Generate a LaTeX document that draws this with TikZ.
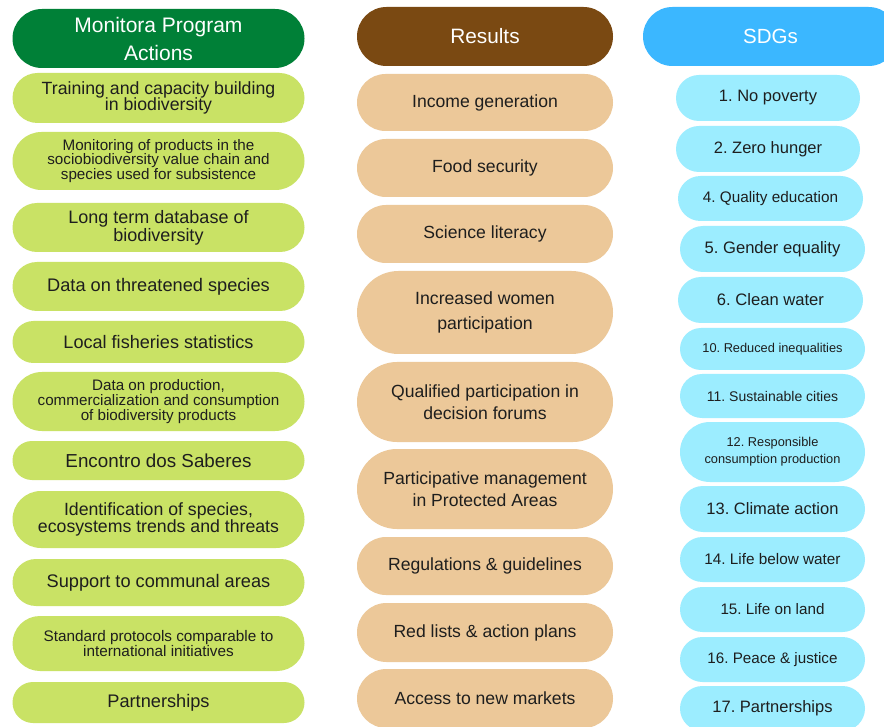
\documentclass[tikz,border=0pt]{standalone}
\usepackage{fontspec}
\setmainfont{Liberation Sans}
\usetikzlibrary{shapes.misc}
\definecolor{hgreen}{HTML}{008037}
\definecolor{lgreen}{HTML}{C9E265}
\definecolor{hbrown}{HTML}{7A4912}
\definecolor{lbrown}{HTML}{ECC899}
\definecolor{hblue}{HTML}{3BB7FF}
\definecolor{lblue}{HTML}{9CEDFF}
\definecolor{txt}{HTML}{1E1E1E}
\newcommand\fz[2]{\fontsize{#1}{#2}\selectfont}
\frenchspacing
\begin{document}
\begin{tikzpicture}[x=1pt,y=-1pt,
  pill/.style={rounded rectangle, inner sep=0pt, align=center, text=txt},
  lhead/.style={pill, fill=hgreen, text=white, minimum width=292pt},
  lbox/.style={pill, fill=lgreen, minimum width=292pt},
  mhead/.style={pill, fill=hbrown, text=white, minimum width=256pt},
  mbox/.style={pill, fill=lbrown, minimum width=256pt, font=\fz{17.6}{22.5}},
  rhead/.style={pill, fill=hblue, text=white, minimum width=255pt},
  rbox/.style={pill, fill=lblue, minimum width=185pt}]
\path[use as bounding box, clip] (0,0) rectangle (884,727);
\fill[white] (0,0) rectangle (884,727);
% left column
\node[lhead, minimum height=59pt, font=\fz{21}{28}] (lh) at (158.5,38.5) {Monitora Program\\Actions};
\node[lbox, minimum height=50pt, font=\fz{17.7}{16.8}] (l1) at (158.5,98) {Training and capacity building\\in biodiversity};
\node[lbox, minimum height=58pt, font=\fz{15.2}{14.6}] (l2) at (158.5,161) {Monitoring of products in the\\sociobiodiversity value chain and\\species used for subsistence};
\node[lbox, minimum height=49pt, font=\fz{18}{18.3}] (l3) at (158.5,227.5) {Long term database of\\biodiversity};
\node[lbox, minimum height=49pt, font=\fz{18.2}{18}] (l4) at (158.5,286.5) {Data on threatened species};
\node[lbox, minimum height=42pt, font=\fz{18.1}{18}] (l5) at (158.5,342) {Local fisheries statistics};
\node[lbox, minimum height=59pt, font=\fz{15.2}{14.7}] (l6) at (158.5,401.5) {Data on production,\\commercialization and consumption\\of biodiversity products};
\node[lbox, minimum height=39pt, font=\fz{18.8}{18}] (l7) at (158.5,460.5) {Encontro dos Saberes};
\node[lbox, minimum height=57pt, font=\fz{17.7}{17}] (l8) at (158.5,519.5) {Identification of species,\\ecosystems trends and threats};
\node[lbox, minimum height=47pt, font=\fz{18.2}{18}] (l9) at (158.5,582.5) {Support to communal areas};
\node[lbox, minimum height=55pt, font=\fz{15.3}{15}] (l10) at (158.5,643.5) {Standard protocols comparable to\\international initiatives};
\node[lbox, minimum height=41pt, font=\fz{18.2}{18}] (l11) at (158.5,702.5) {Partnerships};
% middle column
\node[mhead, minimum height=59pt, font=\fz{20.8}{25}] (mh) at (485,36.5) {Results};
\node[mbox, minimum height=57pt] (m1) at (485,102.5) {Income generation};
\node[mbox, minimum height=58pt] (m2) at (485,168) {Food security};
\node[mbox, minimum height=58pt] (m3) at (485,234) {Science literacy};
\node[mbox, minimum height=83pt, font=\fz{17.7}{25}] (m4) at (485,312.5) {Increased women\\participation};
\node[mbox, minimum height=80pt] (m5) at (485,402) {Qualified participation in\\decision forums};
\node[mbox, minimum height=80pt] (m6) at (485,489) {Participative management\\in Protected Areas};
\node[mbox, minimum height=58pt] (m7) at (485,566) {Regulations \& guidelines};
\node[mbox, minimum height=59pt] (m8) at (485,632.5) {Red lists \& action plans};
\node[mbox, minimum height=59pt] (m9) at (485,698.5) {Access to new markets};
% right column
\node[rhead, minimum height=59pt, font=\fz{20.5}{25}] (rh) at (770.5,36.5) {SDGs};
\node[rbox, minimum width=184pt, minimum height=46pt, font=\fz{16.5}{18}] (r1) at (768,98) {1. No poverty};
\node[rbox, minimum width=184pt, minimum height=46pt, font=\fz{16.5}{18}] (r2) at (768,149) {2. Zero hunger};
\node[rbox, minimum height=45pt, font=\fz{15.3}{18}] (r4) at (770.5,198.5) {4. Quality education};
\node[rbox, minimum height=46pt, font=\fz{16.6}{18}] (r5) at (772.5,249) {5. Gender equality};
\node[rbox, minimum height=46pt, font=\fz{16.6}{18}] (r6) at (770.5,300) {6. Clean water};
\node[rbox, minimum height=42pt, font=\fz{12.8}{16}] (r10) at (772.5,349) {10. Reduced inequalities};
\node[rbox, minimum height=44pt, font=\fz{14}{16}] (r11) at (772.5,396) {11. Sustainable cities};
\node[rbox, minimum height=60pt, font=\fz{12.8}{17}] (r12) at (772.5,452) {12. Responsible\\consumption production};
\node[rbox, minimum height=46pt, font=\fz{16.5}{18}] (r13) at (772.5,509) {13. Climate action};
\node[rbox, minimum height=45pt, font=\fz{15.3}{18}] (r14) at (772.5,559.5) {14. Life below water};
\node[rbox, minimum height=45pt, font=\fz{15.2}{18}] (r15) at (772.5,609.5) {15. Life on land};
\node[rbox, minimum height=45pt, font=\fz{15.2}{18}] (r16) at (772.5,659.5) {16. Peace \& justice};
\node[rbox, minimum height=45pt, font=\fz{16.5}{18}] (r17) at (772.5,708.5) {17. Partnerships};
\end{tikzpicture}
\end{document}
